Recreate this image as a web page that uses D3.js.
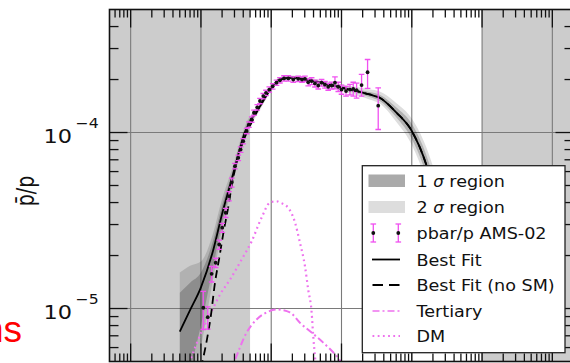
<!DOCTYPE html>
<html><head><meta charset="utf-8">
<script src="https://cdn.jsdelivr.net/npm/d3@7"></script>
<style>body{margin:0;background:#fff}svg{display:block}</style>
</head><body><svg id="c" width="570" height="363"></svg>
<script>
// ---- data ----
const rigidity = [1.08,1.25,1.42,1.62,1.82,2.01,2.25,2.51,2.74,3.05,3.40,3.67,4.00,4.47,4.82,5.27,5.68,6.33,6.92,7.71,8.42,9.38,10.5,11.9,13.3,15.2,17.5,20.6,24.2,27.4,30.2,33.6,37.6,41.9,46.7,52.1,58.1,64.7,72.4,80.7,89.9,100,116,132,147,164,193,235,333];
const ratio = [1.01e-5,8.93e-6,1.575e-5,1.82e-5,2.31e-5,2.88e-5,3.5e-5,4.35e-5,5.2e-5,6.44e-5,7.18e-5,8.0e-5,8.93e-5,1.02e-4,1.11e-4,1.186e-4,1.295e-4,1.39e-4,1.51e-4,1.61e-4,1.68e-4,1.755e-4,1.83e-4,1.92e-4,1.98e-4,2.03e-4,2.03e-4,2.0e-4,2.02e-4,2.0e-4,2.02e-4,1.93e-4,1.96e-4,1.90e-4,1.85e-4,1.92e-4,1.87e-4,1.82e-4,1.85e-4,1.92e-4,1.82e-4,1.755e-4,1.72e-4,1.755e-4,1.77e-4,1.74e-4,1.86e-4,2.2e-4,1.42e-4];
const errUp = [2.4e-6,1.3e-6,1.6e-6,1.1e-6,1.4e-6,1.7e-6,2.1e-6,2.6e-6,3.1e-6,2.3e-6,2.5e-6,2.8e-6,3.1e-6,3.6e-6,3.9e-6,4.2e-6,4.5e-6,4.9e-6,5.3e-6,5.6e-6,5.9e-6,6.1e-6,6.4e-6,6.7e-6,6.9e-6,7.1e-6,7.1e-6,7.0e-6,7.1e-6,7.0e-6,7.1e-6,8.7e-6,8.8e-6,8.6e-6,8.3e-6,8.6e-6,8.4e-6,8.2e-6,8.3e-6,1.5e-5,1.1e-5,1.05e-5,1.1e-5,1.2e-5,1.6e-5,1.7e-5,2.8e-5,4.0e-5,3.75e-5];
const errDown = [2.5e-6,1.3e-6,1.6e-6,1.1e-6,1.4e-6,1.7e-6,2.1e-6,2.6e-6,3.1e-6,2.3e-6,2.5e-6,2.8e-6,3.1e-6,3.6e-6,3.9e-6,4.2e-6,4.5e-6,4.9e-6,5.3e-6,5.6e-6,5.9e-6,6.1e-6,6.4e-6,6.7e-6,6.9e-6,7.1e-6,7.1e-6,7.0e-6,7.1e-6,7.0e-6,7.1e-6,8.7e-6,8.8e-6,8.6e-6,8.3e-6,8.6e-6,8.4e-6,8.2e-6,8.3e-6,1.5e-5,1.1e-5,1.05e-5,1.1e-5,1.2e-5,1.6e-5,1.7e-5,2.5e-5,4.2e-5,3.8e-5];

const bandE   = [0.5,0.7,1.0,1.5,2.0,2.7,4.2,7,10,13,20,32,58,100,250,350,600,1000,1600,2500,4000];
const bestFit = [7.4e-6,9.8e-6,1.32e-5,2.16e-5,3.45e-5,5.3e-5,1.0e-4,1.42e-4,1.78e-4,2.0e-4,2.05e-4,2.0e-4,1.9e-4,1.8e-4,1.645e-4,1.575e-4,1.3e-4,1.02e-4,6.6e-5,3.4e-5,1.3e-5];
const sig1Lo  = [3e-6,4.5e-6,8e-6,1.75e-5,3.05e-5,4.95e-5,9.6e-5,1.38e-4,1.75e-4,1.97e-4,2.02e-4,1.97e-4,1.87e-4,1.76e-4,1.59e-4,1.51e-4,1.22e-4,9.2e-5,5.8e-5,2.8e-5,9e-6];
const sig1Hi  = [1.23e-5,1.4e-5,1.6e-5,2.45e-5,3.85e-5,5.65e-5,1.04e-4,1.46e-4,1.81e-4,2.03e-4,2.08e-4,2.03e-4,1.93e-4,1.84e-4,1.70e-4,1.64e-4,1.39e-4,1.12e-4,7.5e-5,4.1e-5,1.8e-5];
const sig2Lo  = [2e-6,3e-6,6e-6,1.5e-5,2.8e-5,4.7e-5,9.2e-5,1.35e-4,1.72e-4,1.94e-4,1.99e-4,1.94e-4,1.84e-4,1.72e-4,1.54e-4,1.46e-4,1.15e-4,8.5e-5,5.2e-5,2.3e-5,6e-6];
const sig2Hi  = [1.6e-5,1.75e-5,1.85e-5,2.7e-5,4.2e-5,6.0e-5,1.08e-4,1.5e-4,1.84e-4,2.06e-4,2.11e-4,2.06e-4,1.96e-4,1.88e-4,1.76e-4,1.71e-4,1.47e-4,1.2e-4,8.3e-5,4.8e-5,2.3e-5];

const noSmE = [1.0,1.22,1.39,1.58,1.84,2.09,2.47,2.76,3.4,4.3,5.5,7,10,13,20,32,58,100,250,350,600,1000,1600,2500,4000];
const noSmV = [4.6e-6,6.7e-6,9.2e-6,1.39e-5,1.98e-5,2.7e-5,3.85e-5,5.07e-5,7.3e-5,9.6e-5,1.18e-4,1.43e-4,1.78e-4,2.0e-4,2.05e-4,2.0e-4,1.9e-4,1.8e-4,1.645e-4,1.575e-4,1.3e-4,1.02e-4,6.6e-5,3.4e-5,1.3e-5];

const terE = [2.6,3.0,4.47,6.2,8.6,11.9,18.5,25.6,37.6,55,80.7,110];
const terV = [4.3e-6,5.0e-6,7.3e-6,8.67e-6,9.5e-6,9.87e-6,9.5e-6,8.3e-6,7.3e-6,6.4e-6,5.5e-6,4.7e-6];

const dmE = [0.68,1.08,1.42,1.87,2.59,3.8,5.27,7.31,9.6,11.9,13.3,17.5,21.8,25.6,30.2,33.6,37.6,39.6,41.9,43.5];
const dmV = [4.9e-6,7.77e-6,9.65e-6,1.2e-5,1.46e-5,1.9e-5,2.41e-5,3.29e-5,4.0e-5,4.07e-5,4.0e-5,3.73e-5,3.08e-5,2.37e-5,1.74e-5,1.28e-5,9.5e-6,6.97e-6,5.36e-6,4.5e-6];

const excluded = [[0.05,5],[1e4,2e5]];
const xMajor = [0.1,1,10,100,1e3,1e4,1e5];
const yMajor = [1e-5,1e-4];
const yTickLabels = [["10","\u22125"],["10","\u22124"]];
const legendItems = [["1 ","\u03c3"," region"],["2 ","\u03c3"," region"],["pbar/p AMS-02"],["Best Fit"],["Best Fit (no SM)"],["Tertiary"],["DM"]];

// ---- drawing ----
const svg = d3.select("#c");
const L=109.5, R=573.5, T=9.5, B=361.5;
const x = d3.scaleLog().domain([0.05,2e5]).range([L,R]);
const y = d3.scaleLog().domain([5e-6,5e-4]).range([B,T]);
const MAG="#f050f0", MAGL="#ee72ee";
const SX=1.12;

svg.append("defs").append("clipPath").attr("id","clip")
  .append("rect").attr("x",L).attr("y",T).attr("width",R-L).attr("height",B-T);
const g = svg.append("g").attr("clip-path","url(#clip)");

g.selectAll("rect.ex").data(excluded).join("rect")
  .attr("x",d=>x(d[0])).attr("y",T).attr("width",d=>x(d[1])-x(d[0])).attr("height",B-T)
  .attr("fill","#cccccc");

// grid
g.selectAll("line.gx").data(xMajor).join("line")
  .attr("x1",d=>x(d)).attr("x2",d=>x(d)).attr("y1",T).attr("y2",B)
  .attr("stroke","#7a7a7a").attr("stroke-width",1.1);
g.selectAll("line.gy").data(yMajor).join("line")
  .attr("y1",d=>y(d)).attr("y2",d=>y(d)).attr("x1",L).attr("x2",R)
  .attr("stroke","#7a7a7a").attr("stroke-width",1.1);

// bands
const idx = d3.range(bandE.length);
const area = (lo,hi)=>d3.area().x(i=>x(bandE[i])).y0(i=>y(lo[i])).y1(i=>y(hi[i])).curve(d3.curveMonotoneX);
g.append("path").attr("d",area(sig2Lo,sig2Hi)(idx)).attr("fill","#000").attr("fill-opacity",0.13);
g.append("path").attr("d",area(sig1Lo,sig1Hi)(idx)).attr("fill","#000").attr("fill-opacity",0.2);

const line = (xs,ys)=>d3.line().x(i=>x(xs[i])).y(i=>y(ys[i])).curve(d3.curveMonotoneX)(d3.range(xs.length));

// DM & tertiary
g.append("path").attr("d",line(dmE,dmV)).attr("fill","none").attr("stroke",MAGL)
  .attr("stroke-width",2.2).attr("stroke-dasharray","1.8,3.4");
g.append("path").attr("d",line(terE,terV)).attr("fill","none").attr("stroke",MAGL)
  .attr("stroke-width",2).attr("stroke-dasharray","7,3,2,3");

// fits
g.append("path").attr("d",line(bandE,bestFit)).attr("fill","none").attr("stroke","#000").attr("stroke-width",1.8);
g.append("path").attr("d",line(noSmE,noSmV)).attr("fill","none").attr("stroke","#000")
  .attr("stroke-width",1.8).attr("stroke-dasharray","8,5");

// data
const pts = d3.range(rigidity.length);
const eb = g.append("g").attr("stroke",MAG).attr("stroke-width",1.3);
pts.forEach(i=>{
  const xx=x(rigidity[i]), y1=y(ratio[i]+errUp[i]), y0=y(ratio[i]-errDown[i]);
  eb.append("line").attr("x1",xx).attr("x2",xx).attr("y1",y0).attr("y2",y1);
  eb.append("line").attr("x1",xx-2.8).attr("x2",xx+2.8).attr("y1",y0).attr("y2",y0);
  eb.append("line").attr("x1",xx-2.8).attr("x2",xx+2.8).attr("y1",y1).attr("y2",y1);
});
g.selectAll("circle.pt").data(pts).join("circle")
  .attr("cx",i=>x(rigidity[i])).attr("cy",i=>y(ratio[i])).attr("r",1.9).attr("fill","#111");

// ticks
const ax = svg.append("g").attr("stroke","#111").attr("stroke-width",1.3);
const xTicks=[];
for(let n=-2;n<=5;n++) for(let k=1;k<=9;k++){const v=k*Math.pow(10,n); if(v>0.05*1.001 && v<2e5*0.999) xTicks.push([v,k===1]);}
xTicks.forEach(([v,maj])=>{
  const len=maj?18:8, xx=x(v);
  ax.append("line").attr("x1",xx).attr("x2",xx).attr("y1",T).attr("y2",T+len);
  ax.append("line").attr("x1",xx).attr("x2",xx).attr("y1",B).attr("y2",B-len);
});
const yTicks=[];
for(let n=-6;n<=-4;n++) for(let k=1;k<=9;k++){const v=k*Math.pow(10,n); if(v>5e-6*1.001 && v<5e-4*0.999) yTicks.push([v,k===1]);}
yTicks.forEach(([v,maj])=>{
  const len=maj?18:9, yy=y(v);
  ax.append("line").attr("y1",yy).attr("y2",yy).attr("x1",L).attr("x2",L+len);
  ax.append("line").attr("y1",yy).attr("y2",yy).attr("x1",R).attr("x2",R-len);
});
svg.append("rect").attr("x",L).attr("y",T).attr("width",R-L).attr("height",B-T)
  .attr("fill","none").attr("stroke","#111").attr("stroke-width",1.6);

// y tick labels
yMajor.forEach((v,i)=>{
  const yy=y(v);
  svg.append("text").attr("transform",`translate(72,${yy+10.5}) scale(${SX},1)`)
    .attr("text-anchor","end").attr("font-family","DejaVu Sans").attr("font-size",20).attr("fill","#111")
    .text(yTickLabels[i][0]);
  svg.append("text").attr("transform",`translate(75.5,${yy-4.5}) scale(${SX},1)`)
    .attr("font-family","DejaVu Sans").attr("font-size",14).attr("fill","#111")
    .text(yTickLabels[i][1]);
});

// y axis label
svg.append("text").attr("transform","translate(34,191) scale(1.3,1) rotate(-90)")
  .attr("text-anchor","middle").attr("font-family","DejaVu Sans").attr("font-size",19).attr("fill","#111")
  .text("p\u0304/p");

// red fragment from neighbouring panel (cut at the edge as in the reference)
svg.append("text").attr("x",22).attr("y",342).attr("text-anchor","end")
  .attr("font-family","Liberation Sans").attr("font-size",37).attr("fill","#ff0000").text("ns");

// legend
const lg = svg.append("g");
lg.append("rect").attr("x",362.3).attr("y",165.7).attr("width",202.7).attr("height",187)
  .attr("fill","#fff").attr("stroke","#222").attr("stroke-width",1.3);
const rowY = [181,207,233,259.5,285,311,336];
lg.append("rect").attr("x",368.5).attr("y",rowY[0]-6.5).attr("width",36.5).attr("height",12.5).attr("fill","#aaaaaa");
lg.append("rect").attr("x",368.5).attr("y",rowY[1]-6).attr("width",36.5).attr("height",12).attr("fill","#dddddd");
[373.3,398.3].forEach(xx=>{
  const yy=rowY[2];
  lg.append("line").attr("x1",xx).attr("x2",xx).attr("y1",yy-9).attr("y2",yy+9).attr("stroke",MAG).attr("stroke-width",1.3);
  lg.append("line").attr("x1",xx-2.8).attr("x2",xx+2.8).attr("y1",yy-9).attr("y2",yy-9).attr("stroke",MAG).attr("stroke-width",1.3);
  lg.append("line").attr("x1",xx-2.8).attr("x2",xx+2.8).attr("y1",yy+9).attr("y2",yy+9).attr("stroke",MAG).attr("stroke-width",1.3);
  lg.append("circle").attr("cx",xx).attr("cy",yy).attr("r",1.9).attr("fill","#111");
});
lg.append("line").attr("x1",372).attr("x2",400).attr("y1",rowY[3]).attr("y2",rowY[3]).attr("stroke","#000").attr("stroke-width",1.8);
lg.append("line").attr("x1",372.5).attr("x2",400).attr("y1",rowY[4]).attr("y2",rowY[4]).attr("stroke","#000").attr("stroke-width",1.8).attr("stroke-dasharray","10.5,6");
lg.append("line").attr("x1",372.5).attr("x2",400).attr("y1",rowY[5]).attr("y2",rowY[5]).attr("stroke",MAGL).attr("stroke-width",1.6).attr("stroke-dasharray","7,3,2,3");
lg.append("line").attr("x1",372.5).attr("x2",400).attr("y1",rowY[6]).attr("y2",rowY[6]).attr("stroke",MAGL).attr("stroke-width",1.8).attr("stroke-dasharray","1.8,3.4");
legendItems.forEach((parts,i)=>{
  const t = lg.append("text").attr("transform",`translate(416.5,${rowY[i]+6}) scale(1.1,1)`)
    .attr("font-family","DejaVu Sans").attr("font-size",16).attr("fill","#111");
  parts.forEach((p,j)=>{
    const s = t.append("tspan").text(p);
    if(p==="\u03c3") s.attr("font-style","italic").attr("font-size",15);
  });
});
</script></body></html>
